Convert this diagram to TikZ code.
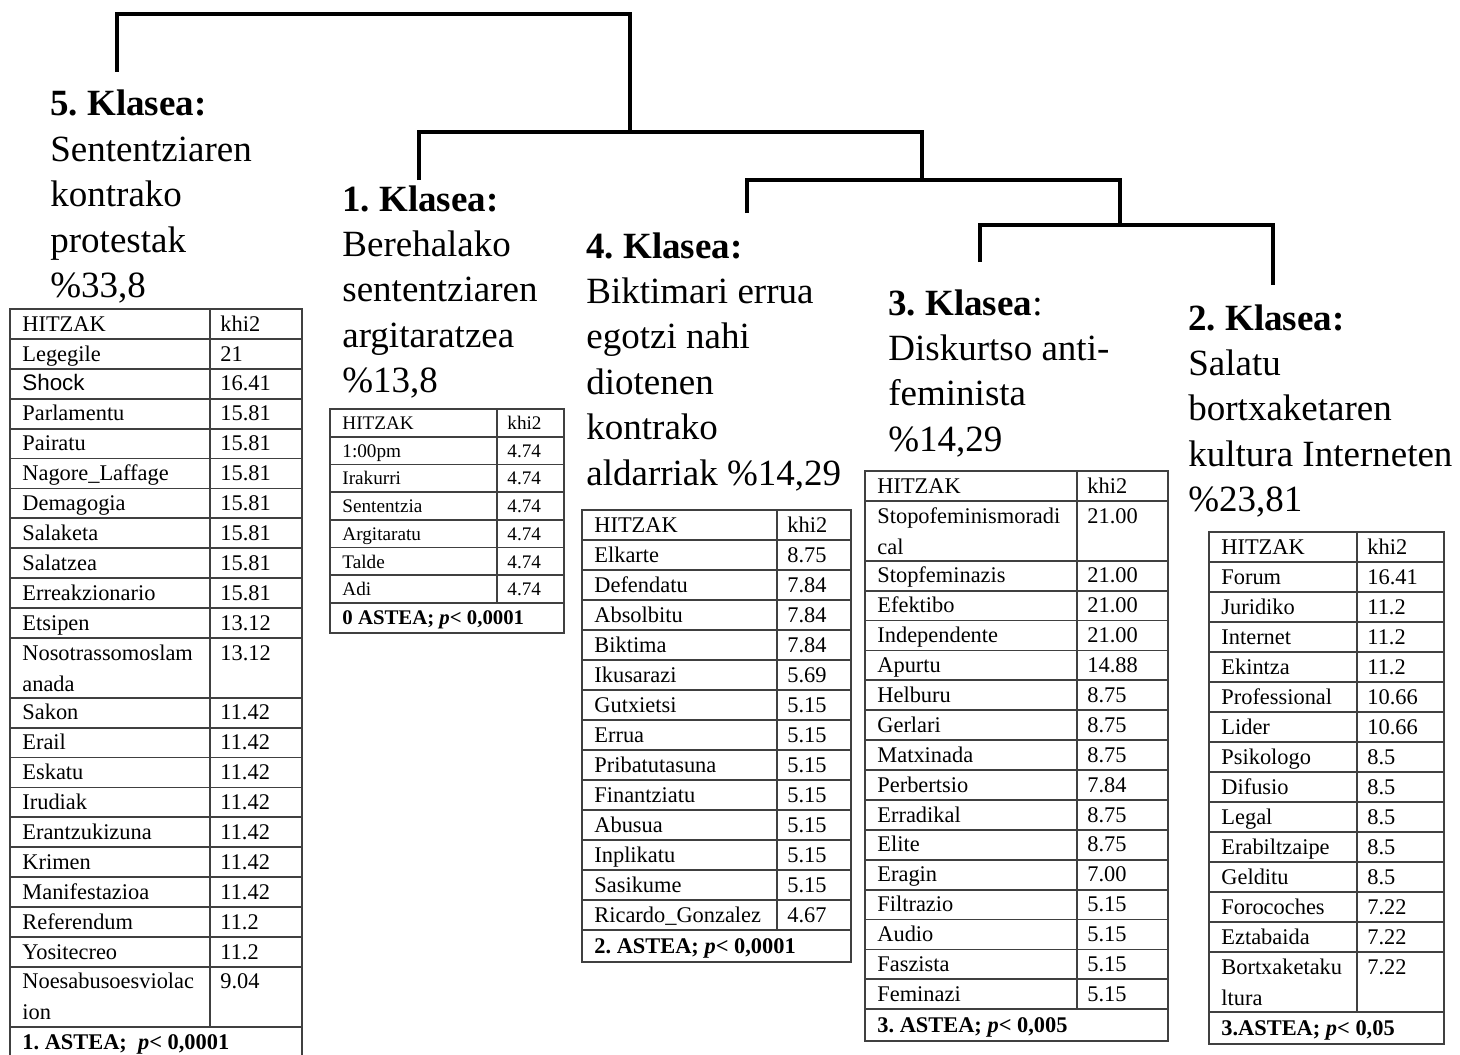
\documentclass[tikz,border=0pt]{standalone}
\usepackage{fontspec}
\setmainfont{Liberation Serif}
\newfontfamily\sanstxt{Liberation Sans}
\usepackage{tikz}
\frenchspacing

\tikzset{
  dendro/.style={line width=2pt},
  klasea/.style={anchor=base west, inner sep=0pt,
    font=\fontsize{18.5}{22.7}\selectfont},
  gelaxka/.style={anchor=base west, inner sep=0pt,
    font=\fontsize{11.2}{15.5}\selectfont},
  taulamarra/.style={line width=0.9pt, draw=black!75},
}

% lines stacked from the first baseline down
\newcommand{\lerroak}[1]{\begin{tabular}[t]{@{}l@{}}#1\end{tabular}}

% #1 izena, #2 ezkerra, #3 zutabea, #4 eskuina, #5 goia, #6 errenkada, #7 unitateak, #8 errenkadak, #9 oina
\newcommand{\hitztaula}[9]{%
  \draw[taulamarra] (#2,#5) rectangle (#4,#5+#7*#6+#6+2);
  \draw[taulamarra] (#3,#5) -- (#3,#5+#7*#6);
  \foreach \hitz/\khi/\n [count=\i, remember=\b as \a (initially 0),
      evaluate=\n as \b using \a+\n] in {#8}{%
    \node[gelaxka] (#1-h\i) at (#2+12,#5+\a*#6+0.74*#6) {\lerroak{\hitz}};
    \node[gelaxka] (#1-k\i) at (#3+10,#5+\a*#6+0.74*#6) {\khi};
    \draw[taulamarra] (#2,#5+\b*#6) -- (#4,#5+\b*#6);
  }
  \node[gelaxka] (#1-oin) at (#2+12,#5+#7*#6+0.74*#6+1) {\bfseries #9};
}

\begin{document}
\begin{tikzpicture}[x=0.5pt, y=-0.5pt]
    \useasboundingbox (0,0) rectangle (1460,1054);

    % Dendrogram
    \coordinate (k5) at (117,72);
    \coordinate (k1) at (419,180);
    \coordinate (k4) at (747,213);
    \coordinate (k3) at (980,262);
    \coordinate (k2) at (1273,285);
    \coordinate (j32) at (1120,225);
    \coordinate (j432) at (922,180);
    \coordinate (j1432) at (630,132);
    \coordinate (jroot) at (374,14);
    \draw[dendro] (k3) |- (j32) -| (k2);
    \draw[dendro] (k4) |- (j432) -| (j32);
    \draw[dendro] (k1) |- (j1432) -| (j432);
    \draw[dendro] (k5) |- (jroot) -| (j1432);

    % Class headings
    \node[klasea] (k5h) at (50,116) {\lerroak{\textbf{5. Klasea:}\\Sententziaren\\kontrako\\protestak\\\%33,8}};
    \node[klasea] (k1h) at (342,211) {\lerroak{\textbf{1. Klasea:}\\Berehalako\\sententziaren\\argitaratzea\\\%13,8}};
    \node[klasea] (k4h) at (586,258) {\lerroak{\textbf{4. Klasea:}\\Biktimari errua\\egotzi nahi\\diotenen\\kontrako\\aldarriak \%14,29}};
    \node[klasea] (k3h) at (888,315) {\lerroak{\textbf{3. Klasea}:\\Diskurtso anti-\\feminista\\\%14,29}};
    \node[klasea] (k2h) at (1188,330) {\lerroak{\textbf{2. Klasea:}\\Salatu\\bortxaketaren\\kultura Interneten\\\%23,81}};

    % 5. Klasea table
    \hitztaula{k5t}{10}{210}{302}{309}{29.9}{24}{HITZAK/khi2/1, Legegile/21/1,
      {\sanstxt Shock}/16.41/1, Parlamentu/15.81/1, Pairatu/15.81/1,
      Nagore\_Laffage/15.81/1, Demagogia/15.81/1, Salaketa/15.81/1,
      Salatzea/15.81/1, Erreakzionario/15.81/1, Etsipen/13.12/1,
      Nosotrassomoslam\\anada/13.12/2, Sakon/11.42/1, Erail/11.42/1,
      Eskatu/11.42/1, Irudiak/11.42/1, Erantzukizuna/11.42/1, Krimen/11.42/1,
      Manifestazioa/11.42/1, Referendum/11.2/1, Yositecreo/11.2/1,
      Noesabusoesviolac\\ion/9.04/2}{1. ASTEA;\enspace\textit{p}< 0,0001}

    % 1. Klasea table
    \begin{scope}[gelaxka/.append style={font=\fontsize{9.6}{13}\selectfont}]
    \hitztaula{k1t}{330}{497}{564}{409}{27.7}{7}{HITZAK/khi2/1, 1:00pm/4.74/1,
      Irakurri/4.74/1, Sententzia/4.74/1, Argitaratu/4.74/1, Talde/4.74/1,
      Adi/4.74/1}{\fontsize{10.4}{13}\selectfont 0 ASTEA; \textit{p}< 0,0001}
    \end{scope}

    % 4. Klasea table
    \hitztaula{k4t}{582}{777}{851}{510}{30}{14}{HITZAK/khi2/1, Elkarte/8.75/1,
      Defendatu/7.84/1, Absolbitu/7.84/1, Biktima/7.84/1, Ikusarazi/5.69/1,
      Gutxietsi/5.15/1, Errua/5.15/1, Pribatutasuna/5.15/1, Finantziatu/5.15/1,
      Abusua/5.15/1, Inplikatu/5.15/1, Sasikume/5.15/1,
      Ricardo\_Gonzalez/4.67/1}{2. ASTEA; \textit{p}< 0,0001}

    % 3. Klasea table
    \hitztaula{k3t}{865}{1077}{1168}{471}{29.9}{18}{HITZAK/khi2/1,
      Stopofeminismoradi\\cal/21.00/2, Stopfeminazis/21.00/1, Efektibo/21.00/1,
      Independente/21.00/1, Apurtu/14.88/1, Helburu/8.75/1, Gerlari/8.75/1,
      Matxinada/8.75/1, Perbertsio/7.84/1, Erradikal/8.75/1, Elite/8.75/1,
      Eragin/7.00/1, Filtrazio/5.15/1, Audio/5.15/1, Faszista/5.15/1,
      Feminazi/5.15/1}{3. ASTEA; \textit{p}< 0,005}

    % 2. Klasea table
    \hitztaula{k2t}{1209}{1357}{1444}{532}{30}{16}{HITZAK/khi2/1, Forum/16.41/1,
      Juridiko/11.2/1, Internet/11.2/1, Ekintza/11.2/1, Professional/10.66/1,
      Lider/10.66/1, Psikologo/8.5/1, Difusio/8.5/1, Legal/8.5/1,
      Erabiltzaipe/8.5/1, Gelditu/8.5/1, Forocoches/7.22/1, Eztabaida/7.22/1,
      Bortxaketaku\\ltura/7.22/2}{3.ASTEA; \textit{p}< 0,05}
\end{tikzpicture}
\end{document}
